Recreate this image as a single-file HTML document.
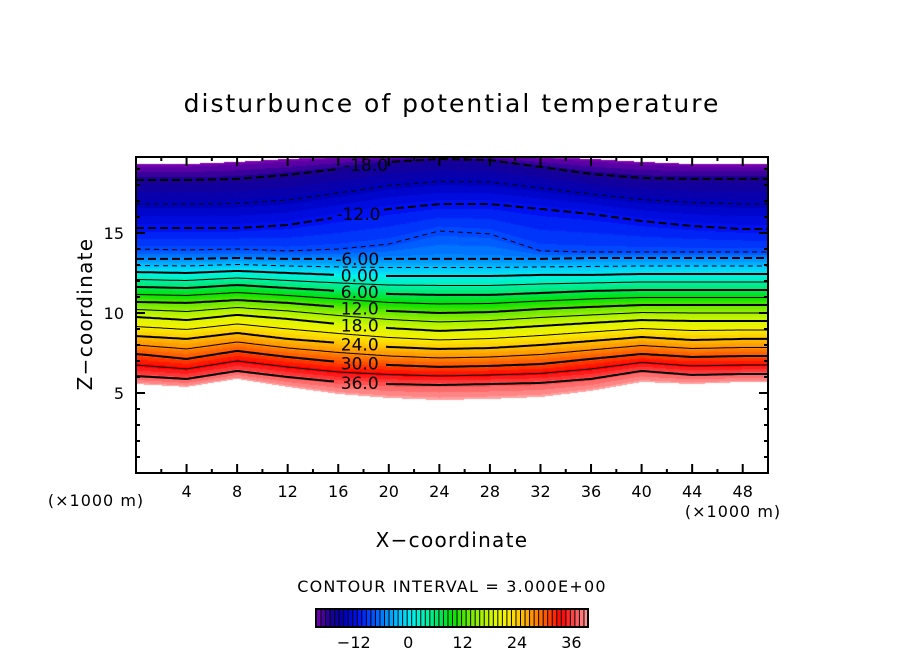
<!DOCTYPE html>
<html><head><meta charset="utf-8"><style>
html,body{margin:0;padding:0;background:#fff;}
#wrap{position:relative;width:904px;height:654px;overflow:hidden;}
svg text{font-family:"DejaVu Sans","Liberation Sans",sans-serif;fill:#000;}
</style></head><body>
<div id="wrap">
<svg id="svg" width="904" height="654" xmlns="http://www.w3.org/2000/svg">
<text x="452" y="112" font-size="25" letter-spacing="2" text-anchor="middle">disturbunce of potential temperature</text>
<text x="452" y="547" font-size="20" letter-spacing="1.3" text-anchor="middle">X−coordinate</text>
<text transform="translate(92,314) rotate(-90)" font-size="20" letter-spacing="1.3" text-anchor="middle">Z−coordinate</text>
<text x="96" y="506" font-size="16" letter-spacing="1" text-anchor="middle">(×1000 m)</text>
<text x="733" y="517" font-size="16" letter-spacing="1" text-anchor="middle">(×1000 m)</text>
<text x="452" y="592" font-size="16" letter-spacing="1.2" text-anchor="middle">CONTOUR INTERVAL = 3.000E+00</text>
</svg>
<canvas id="cv" width="632" height="316" style="position:absolute;left:136px;top:157px;"></canvas>
<svg id="ov" width="904" height="654" style="position:absolute;left:0;top:0;"></svg>
</div>
<script>
// ---- data ----
const xs = [0,4,8,12,16,20,24,28,32,36,40,44,48,50];
// value at each level-height row; first = bottom boundary, last = top boundary
const levels = [39,36,30,24,18,12,6,0,-6,-9,-12,-18,-21];
// height (x1000 m) of each level at each x
const zLevels = [
[5.56,6.06,7.44,8.56,9.75,10.69,11.63,12.56,13.38,14.0,15.31,18.31,19.31],
[5.38,5.88,7.13,8.38,9.56,10.63,11.56,12.5,13.38,13.94,15.31,18.31,19.31],
[5.88,6.38,7.63,8.75,9.88,10.81,11.75,12.63,13.44,14.0,15.31,18.38,19.44],
[5.38,6.0,7.25,8.38,9.63,10.63,11.56,12.5,13.38,13.88,15.5,18.63,19.63],
[4.94,5.69,6.94,8.13,9.31,10.38,11.38,12.38,13.38,14.0,16.0,19.0,19.75],
[4.69,5.56,6.75,7.88,9.06,10.13,11.19,12.31,13.38,14.31,16.5,19.44,19.81],
[4.56,5.5,6.63,7.75,8.88,10.0,11.13,12.31,13.38,15.13,16.81,19.63,19.81],
[4.63,5.56,6.69,7.81,9.0,10.06,11.13,12.31,13.38,14.94,16.81,19.56,19.81],
[4.75,5.63,6.81,8.0,9.19,10.25,11.25,12.38,13.38,13.88,16.5,19.13,19.75],
[5.13,5.88,7.13,8.25,9.38,10.38,11.38,12.38,13.44,13.81,16.19,18.69,19.63],
[5.69,6.38,7.44,8.5,9.56,10.5,11.44,12.44,13.44,13.81,15.75,18.44,19.44],
[5.56,6.13,7.25,8.31,9.5,10.5,11.44,12.44,13.44,13.81,15.44,18.38,19.31],
[5.69,6.19,7.31,8.38,9.5,10.5,11.44,12.44,13.44,13.81,15.25,18.38,19.31],
[5.69,6.19,7.31,8.38,9.5,10.5,11.44,12.44,13.44,13.81,15.25,18.38,19.31]
];
const contourLevels = [-18,-15,-12,-9,-6,-3,0,3,6,9,12,15,18,21,24,27,30,33,36];
const labelLevels = [36,30,24,18,12,6,0,-6,-12,-18];
const labelTexts = ["36.0","30.0","24.0","18.0","12.0","6.00","0.00","-6.00","-12.0","-18.0"];
const labelX = [17.7,17.7,17.7,17.7,17.7,17.7,17.7,17.5,17.6,18.2];
const xTicks = [4,8,12,16,20,24,28,32,36,40,44,48];
const yTicks = [5,10,15];
const cbTicks = [-12,0,12,24,36];
const cmapV = [-21,-18,-15,-12,-9,-6,-3,0,3,6,9,12,15,18,21,24,27,30,33,36,39];
const cmapC = ["#7800b0","#1a0090","#0000b8","#0010f0","#0048ff","#0088ff","#00c0ff","#00f0f0","#00f0b0","#00e860","#00e000","#58e800","#a0f000","#d8f800","#f8f000","#ffc400","#ff8c00","#ff4c00","#ff0000","#ff5050","#ffa0a0"];

// ---- axes ----
const X0=136,X1=768,Y0=157,Y1=473, XMAX=50, ZMAX=19.75;
const sx=v=>X0+(v/XMAX)*(X1-X0);
const sz=z=>Y1-(z/ZMAX)*(Y1-Y0);
const NS="http://www.w3.org/2000/svg";
function mk(tag,attrs,parent){const e=document.createElementNS(NS,tag);for(const k in attrs)e.setAttribute(k,attrs[k]);parent.appendChild(e);return e;}

function colAt(x){
  let i=0; while(i<xs.length-2 && x>xs[i+1]) i++;
  const t=(x-xs[i])/(xs[i+1]-xs[i]);
  return zLevels[i].map((z,k)=>z+(zLevels[i+1][k]-z)*t);
}
function valAt(col,z){
  if(z<col[0]||z>col[col.length-1]) return null;
  for(let k=0;k<col.length-1;k++){ if(z<=col[k+1]){const t=(z-col[k])/(col[k+1]-col[k]||1);return levels[k]+(levels[k+1]-levels[k])*t;} }
  return null;
}
function hex(c){return [parseInt(c.substr(1,2),16),parseInt(c.substr(3,2),16),parseInt(c.substr(5,2),16)];}
const cmapRGB=cmapC.map(hex);
function color(v){
  v=Math.max(cmapV[0],Math.min(cmapV[cmapV.length-1],v));
  let i=0; while(i<cmapV.length-2 && v>cmapV[i+1]) i++;
  const t=(v-cmapV[i])/(cmapV[i+1]-cmapV[i]);
  return cmapRGB[i].map((c,k)=>Math.round(c+(cmapRGB[i+1][k]-c)*t));
}
function zForLevel(col,L){
  for(let k=0;k<col.length-1;k++){const a=levels[k],b=levels[k+1];
    if((L<=a&&L>=b)){const t=(a-L)/(a-b);return col[k]+(col[k+1]-col[k])*t;}}
  return null;
}

// fill
const cv=document.getElementById('cv'),ctx=cv.getContext('2d');
const img=ctx.createImageData(632,316);
for(let px=0;px<632;px++){
  const col=colAt((px+0.5)/632*XMAX);
  for(let py=0;py<316;py++){
    const z=(316-py-0.5)/316*ZMAX;
    const v=valAt(col,z); const o=(py*632+px)*4;
    let c=[255,255,255];
    if(v!==null){c=color(Math.round(v));}
    img.data[o]=c[0];img.data[o+1]=c[1];img.data[o+2]=c[2];img.data[o+3]=255;
  }
}
ctx.putImageData(img,0,0);

// contours
const ov=document.getElementById('ov');
const cg=mk('g',{},ov);


contourLevels.forEach(L=>{
  const li=labelLevels.indexOf(L);
  let segs=[[]];
  for(let px=X0;px<=X1;px+=2){
    const x=(px-X0)/(X1-X0)*XMAX;
    if(li>=0){const lx=sx(labelX[li]);if(px>lx-25&&px<lx+25){if(segs[segs.length-1].length)segs.push([]);continue;}}
    const z=zForLevel(colAt(x),L);
    if(z===null){if(segs[segs.length-1].length)segs.push([]);continue;}
    segs[segs.length-1].push(px+','+sz(z).toFixed(1));
  }
  segs.filter(s=>s.length>1).forEach(s=>{
    const p=mk('polyline',{points:s.join(' '),fill:'none',stroke:'#000','stroke-width':(L%6===0?2:1)},cg);
    if(L<0)p.setAttribute('stroke-dasharray',L%6===0?'8,4':'5,4');
    
    
  });
});
labelLevels.forEach((L,i)=>{
  const x=labelX[i]; const z=zForLevel(colAt(x),L);
  const t=mk('text',{x:sx(x),y:sz(z)+6,'font-size':17,'text-anchor':'middle'},ov);
  t.textContent=labelTexts[i];
  
  
});

// frame & ticks
const ax=mk('g',{},ov);


mk('rect',{x:X0,y:Y0,width:X1-X0,height:Y1-Y0,fill:'none',stroke:'#000','stroke-width':2},ax);
for(let v=2;v<XMAX;v+=2){const maj=v%4===0,len=maj?9:4,x=sx(v);
  mk('line',{x1:x,y1:Y1,x2:x,y2:Y1-len,stroke:'#000','stroke-width':2},ax);
  mk('line',{x1:x,y1:Y0,x2:x,y2:Y0+len,stroke:'#000','stroke-width':2},ax);}
for(let v=1;v<ZMAX;v+=1){const maj=v%5===0,len=maj?9:4,y=sz(v);
  mk('line',{x1:X0,y1:y,x2:X0+len,y2:y,stroke:'#000','stroke-width':2},ax);
  mk('line',{x1:X1,y1:y,x2:X1-len,y2:y,stroke:'#000','stroke-width':2},ax);}
xTicks.forEach(v=>{const t=mk('text',{x:sx(v),y:497,'font-size':16,'text-anchor':'middle'},ax);t.textContent=v;
  });
yTicks.forEach(v=>{const t=mk('text',{x:124,y:sz(v)+6,'font-size':16,'text-anchor':'end'},ax);t.textContent=v;
  });

// colorbar
const CB0=316,CB1=588,CBY=609,CBH=18,CBMIN=-21,CBMAX=39;
const cbx=v=>CB0+(v-CBMIN)/(CBMAX-CBMIN)*(CB1-CB0);
const cb=mk('g',{},ov);


mk('rect',{x:CB0,y:CBY,width:CB1-CB0,height:CBH,fill:'#000'},cb);
for(let v=CBMIN;v<CBMAX;v+=1){const c=color(v+0.5);
  mk('rect',{x:cbx(v)+1,y:CBY+1,width:Math.max(1,cbx(v+1)-cbx(v)-1),height:CBH-2,fill:'rgb('+c.join(',')+')'},cb);}
mk('rect',{x:CB0,y:CBY,width:CB1-CB0,height:CBH,fill:'none',stroke:'#000','stroke-width':2},cb);
cbTicks.forEach(v=>{const t=mk('text',{x:cbx(v)-3,y:648,'font-size':16,'text-anchor':'middle'},cb);t.textContent=(v<0?'−'+(-v):v);
  });
</script>
</body></html>
